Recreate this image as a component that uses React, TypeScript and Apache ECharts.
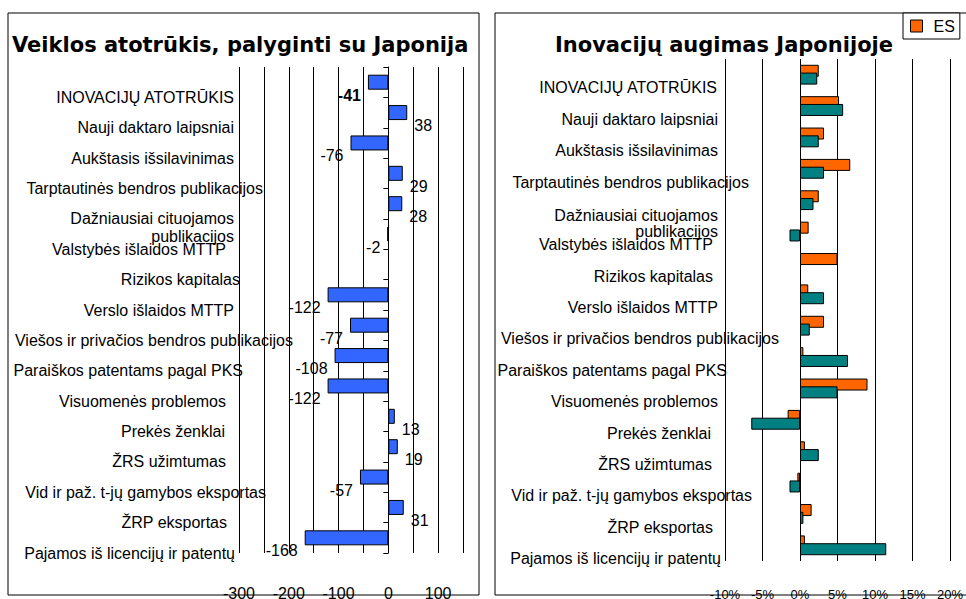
import { useEffect, useRef } from 'react';
import * as echarts from 'echarts';

// ---- data ----
const categories: string[] = [
  'INOVACIJŲ ATOTRŪKIS',
  'Nauji daktaro laipsniai',
  'Aukštasis išsilavinimas',
  'Tarptautinės bendros publikacijos',
  'Dažniausiai cituojamos\npublikacijos',
  'Valstybės išlaidos MTTP',
  'Rizikos kapitalas',
  'Verslo išlaidos MTTP',
  'Viešos ir privačios bendros publikacijos',
  'Paraiškos patentams pagal PKS',
  'Visuomenės problemos',
  'Prekės ženklai',
  'ŽRS užimtumas',
  'Vid ir paž. t-jų gamybos eksportas',
  'ŽRP eksportas',
  'Pajamos iš licencijų ir patentų',
];

// Veiklos atotrūkis, palyginti su Japonija
const gapVsJapan: (number | null)[] = [-41, 38, -76, 29, 28, -2, null, -122, -77, -108, -122, 13, 19, -57, 31, -168];

// Inovacijų augimas (%)
const growthES: (number | null)[] = [2.5, 5.2, 3.2, 6.7, 2.5, 1.15, 5.0, 1.1, 3.2, 0.45, 9.0, -1.65, 0.65, -0.35, 1.55, 0.65];
const growthJapan: (number | null)[] = [2.3, 5.75, 2.5, 3.2, 1.8, -1.4, null, 3.2, 1.3, 6.4, 5.0, -6.5, 2.5, -1.4, 0.45, 11.5];

const seriesNames = ['ES', 'Japonija'];
const leftTitle = 'Veiklos atotrūkis, palyginti su Japonija';
const rightTitle = 'Inovacijų augimas Japonijoje';

// ---- layout (label right-side shifts, px) ----
const leftLabelShift = [59, 59, 59, 30, 59, 67, 53, 59, 0, 50, 67, 68, 67, 27, 66, 58];
const rightLabelShift = [62, 61, 61, 30, 61, 66, 66, 61, 0, 52, 61, 68, 67, 27, 66, 58];

const SANS = '"Liberation Sans", Arial, Helvetica, sans-serif';
const TITLE_FONT = '"DejaVu Sans", Verdana, sans-serif';

function makeRich(shifts: number[], bottomPad: number) {
  const base = { fontSize: 16, fontFamily: SANS, color: '#000', lineHeight: 18 };
  const rich: Record<string, any> = { s: { ...base } };
  shifts.forEach((p, i) => {
    rich['l' + i] = { ...base, padding: [0, p, bottomPad, 0] };
    rich['m' + i] = { ...base, padding: [0, p, 0, 0] };
  });
  return rich;
}

function labelFormatter(value: string, idx: number) {
  if (!value) return '';
  const i = idx - 1;
  const lines = value.split('\n');
  if (lines.length === 1) return `{l${i}|${value}}`;
  // multi-line names: a blank spacer line on top pushes the text below the tick
  const body = lines
    .map((ln, k) => (k === lines.length - 1 ? `{l${i}|${ln}}` : `{m${i}|${ln}}`))
    .join('\n');
  return `{s| }\n${body}`;
}

function labelAxis(gridIndex: number, rich: Record<string, any>) {
  return {
    gridIndex,
    type: 'category',
    inverse: true,
    boundaryGap: false,
    data: ['', ...categories],
    axisLine: { show: false, onZero: false },
    axisTick: { show: false },
    splitLine: { show: false },
    axisLabel: {
      interval: 0,
      margin: 5,
      align: 'right',
      verticalAlign: 'middle',
      fontSize: 16,
      lineHeight: 18,
      formatter: labelFormatter,
      rich,
    },
  };
}

function buildOption() {
  const leftData = gapVsJapan.map((v, i) => ({
    value: v,
    label: {
      position: v !== null && v < 0 ? 'left' : 'right',
      fontWeight: i === 0 ? 'bold' : 'normal',
    },
  }));

  return {
    animation: false,
    backgroundColor: '#fff',
    title: [
      {
        text: leftTitle,
        left: 12,
        top: 34,
        padding: 0,
        textStyle: { fontFamily: TITLE_FONT, fontWeight: 'bold', fontSize: 21, color: '#000' },
      },
      {
        text: rightTitle,
        left: 724,
        top: 34,
        padding: 0,
        textAlign: 'center',
        textStyle: { fontFamily: TITLE_FONT, fontWeight: 'bold', fontSize: 21, color: '#000' },
      },
    ],
    legend: {
      data: [seriesNames[0]],
      left: 903,
      top: 13,
      padding: [5, 5, 5, 7],
      icon: 'rect',
      itemWidth: 12,
      itemHeight: 12,
      itemStyle: { borderColor: '#000', borderWidth: 1 },
      borderColor: '#000',
      borderWidth: 1,
      backgroundColor: '#fff',
      textStyle: { fontSize: 16, fontFamily: SANS, color: '#000', padding: [0, 0, 0, 6] },
    },
    graphic: [
      {
        type: 'rect',
        shape: { x: 8, y: 13, width: 471, height: 582 },
        style: { fill: 'none', stroke: '#000', lineWidth: 1 },
        silent: true,
      },
      {
        type: 'rect',
        shape: { x: 495, y: 13, width: 480, height: 582 },
        style: { fill: 'none', stroke: '#000', lineWidth: 1 },
        silent: true,
      },
    ],
    grid: [
      { left: 239, top: 67, width: 224, height: 486, containLabel: false, outerBoundsMode: 'none' },
      { left: 725, top: 59, width: 225, height: 502, containLabel: false, outerBoundsMode: 'none' },
      // label-only grids (category names anchored at their right edge)
      { left: 298, top: 67, width: 1, height: 486, containLabel: false, outerBoundsMode: 'none' },
      { left: 784, top: 59, width: 1, height: 502, containLabel: false, outerBoundsMode: 'none' },
    ],
    xAxis: [
      {
        gridIndex: 0,
        type: 'value',
        min: -300,
        max: 150,
        interval: 50,
        axisLine: { show: false },
        axisTick: { show: false },
        splitLine: { show: true, showMinLine: true, showMaxLine: true, lineStyle: { color: '#000', width: 1 } },
        axisLabel: {
          margin: 32,
          fontSize: 16,
          fontFamily: SANS,
          color: '#000',
          formatter: (v: number) => (v % 100 === 0 ? String(v) : ''),
        },
      },
      {
        gridIndex: 1,
        type: 'value',
        min: -10,
        max: 20,
        interval: 5,
        axisLine: { show: false },
        axisTick: { show: false },
        splitLine: { show: true, showMinLine: true, showMaxLine: true, lineStyle: { color: '#000', width: 1 } },
        axisLabel: {
          margin: 27,
          fontSize: 13,
          fontFamily: SANS,
          color: '#000',
          formatter: (v: number) => `${v}%`,
        },
      },
      { gridIndex: 2, type: 'value', show: false },
      { gridIndex: 3, type: 'value', show: false },
    ],
    yAxis: [
      {
        gridIndex: 0,
        type: 'category',
        inverse: true,
        data: categories,
        axisLine: { show: true, onZero: true, lineStyle: { color: '#000', width: 1 } },
        axisTick: { show: true, length: 5, lineStyle: { color: '#000' } },
        axisLabel: { show: false },
        splitLine: { show: false },
      },
      {
        gridIndex: 1,
        type: 'category',
        inverse: true,
        data: categories,
        axisLine: { show: false, onZero: false },
        axisTick: { show: false },
        axisLabel: { show: false },
        splitLine: { show: false },
      },
      labelAxis(2, makeRich(leftLabelShift, 0)),
      labelAxis(3, makeRich(rightLabelShift, 5)),
    ],
    series: [
      {
        type: 'bar',
        xAxisIndex: 0,
        yAxisIndex: 0,
        data: leftData,
        barWidth: 15,
        itemStyle: { color: '#3366FF', borderColor: '#000', borderWidth: 1 },
        label: {
          show: true,
          distance: 7,
          offset: [0, 13],
          fontSize: 16,
          fontFamily: SANS,
          color: '#000',
          formatter: '{c}',
        },
      },
      {
        name: seriesNames[0],
        type: 'bar',
        xAxisIndex: 1,
        yAxisIndex: 1,
        data: growthES,
        barWidth: 12,
        barGap: '-35%',
        itemStyle: { color: '#FF6600', borderColor: '#000', borderWidth: 1 },
      },
      {
        name: seriesNames[1],
        type: 'bar',
        xAxisIndex: 1,
        yAxisIndex: 1,
        data: growthJapan,
        barWidth: 12,
        barGap: '-35%',
        itemStyle: { color: '#008080', borderColor: '#000', borderWidth: 1 },
      },
    ],
  };
}

export default function App() {
  const ref = useRef<HTMLDivElement>(null);
  useEffect(() => {
    if (!ref.current) return;
    const chart = echarts.init(ref.current, null, { renderer: 'svg' });
    chart.setOption(buildOption() as any);
    return () => chart.dispose();
  }, []);
  return (
    <div
      ref={ref}
      style={{ position: 'absolute', left: 0, top: 0, width: 966, height: 599, background: '#fff' }}
    />
  );
}
